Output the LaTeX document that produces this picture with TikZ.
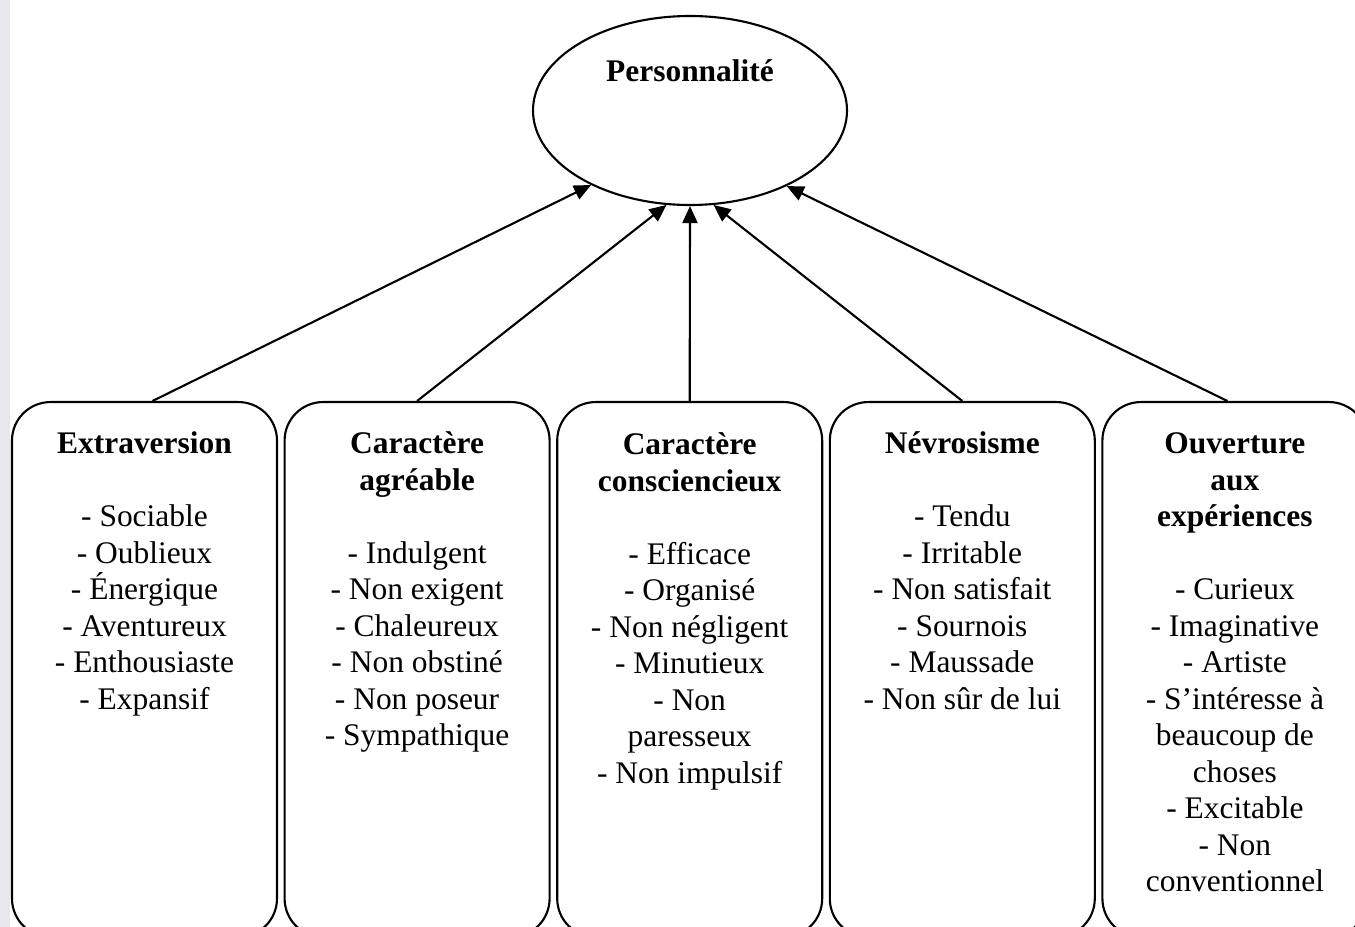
\documentclass[tikz,border=0pt]{standalone}
\usepackage{fontspec}
\setmainfont{Liberation Serif}
\usepackage{tikz}
\usetikzlibrary{shapes.geometric,arrows.meta}
\definecolor{sidebar}{RGB}{229,231,235}

\begin{document}
\begin{tikzpicture}[line width=1.2pt, >={Triangle[length=0.34cm,width=0.3cm]}]
    \tikzstyle{every node}=[font=\fontsize{17.9}{20.75}\selectfont]
    \tikzstyle{trait}=[draw, rounded corners=0.77cm, minimum width=5.3cm, minimum height=10.7cm, anchor=north, inner sep=0pt]
    \tikzstyle{factor}=[draw, ellipse, minimum width=6.28cm, minimum height=3.78cm, inner sep=0pt]
    \tikzstyle{annot}=[text width=5.2cm, align=flush center, anchor=base, inner sep=0pt]

    \useasboundingbox (0,0) rectangle (27.1,-18.54);
    \fill[sidebar] (0,0) rectangle (0.2,-18.54);

% Nodes
    % Personality
    \node[factor] (P) at (13.8,-2.21) {};
    \node[annot] (P-t) at (13.8,-1.64) {\textbf{Personnalité}};

    % Trait boxes
    \foreach \name / \x in {1/2.89, 2/8.342, 3/13.794, 4/19.246, 5/24.698}
        \node[trait] (B-\name) at (\x,-8.02) {};

    % Trait texts
    \node[annot] (T-1) at (B-1 |- 0,-9.08) {\textbf{Extraversion}\\[20.75pt]
        - Sociable\\- Oublieux\\- Énergique\\- Aventureux\\- Enthousiaste\\- Expansif};
    \node[annot] (T-2) at (B-2 |- 0,-9.08) {\textbf{Caractère}\\\textbf{agréable}\\[20.75pt]
        - Indulgent\\- Non exigent\\- Chaleureux\\- Non obstiné\\- Non poseur\\- Sympathique};
    \node[annot] (T-3) at (B-3 |- 0,-9.1) {\textbf{Caractère}\\\textbf{consciencieux}\\[20.75pt]
        - Efficace\\- Organisé\\- Non négligent\\- Minutieux\\- Non\\paresseux\\- Non impulsif};
    \node[annot] (T-4) at (B-4 |- 0,-9.08) {\textbf{Névrosisme}\\[20.75pt]
        - Tendu\\- Irritable\\- Non satisfait\\- Sournois\\- Maussade\\- Non sûr de lui};
    \node[annot] (T-5) at (B-5 |- 0,-9.08) {\textbf{Ouverture}\\\textbf{aux}\\\textbf{expériences}\\[20.75pt]
        - Curieux\\- Imaginative\\- Artiste\\- S’intéresse à\\beaucoup de\\choses\\- Excitable\\- Non\\conventionnel};

% Paths
    % Traits towards personality
    \foreach \source / \dx / \a in {1/0.16/217.5, 2/0/256, 3/0/270, 4/0/284, 5/-0.15/322}
        \draw[->] ([xshift=\dx cm]B-\source.north) -- (P.\a);

\end{tikzpicture}
\end{document}
